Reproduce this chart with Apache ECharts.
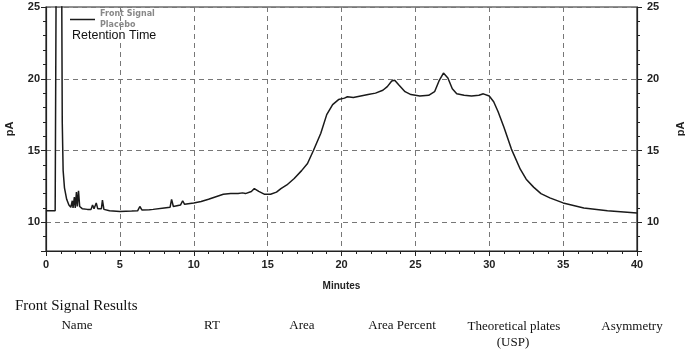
<!DOCTYPE html>
<html style="height: 100%">
<head>
    <meta charset="utf-8">
    <style>
        body { margin: 0; background: #fff; }
        #chart { width: 685px; height: 352px; }
    </style>
    <script type="text/javascript" src="https://cdn.jsdelivr.net/npm/echarts@6/dist/echarts.min.js"></script>
</head>
<body>
<div id="chart"></div>
<script type="text/javascript">
    // retention time (min) and detector signal (pA)
    var times = [0, 0.3, 0.62, 0.70, 0.88, 1.05, 1.10, 1.16, 1.25, 1.4, 1.55, 1.68, 1.78, 1.83, 1.92, 1.98,
        2.06, 2.12, 2.2, 2.28, 2.45, 2.8, 3.05, 3.15, 3.25, 3.4, 3.5, 3.75, 3.82, 3.92, 4.3, 5,
        5.8, 6.2, 6.35, 6.5, 7.0, 7.1, 7.25, 8.0, 8.4, 8.5, 8.62, 9.1, 9.25, 9.38, 10, 10.5,
        11, 11.4, 11.5, 12, 12.5, 13, 13.3, 13.5, 13.9, 14.1, 14.4, 14.8, 15.2, 15.6, 15.9, 16.3,
        16.8, 17.3, 17.7, 18.1, 18.6, 19.0, 19.4, 19.8, 20.2, 20.4, 20.8, 21.3, 21.8, 22.3, 22.8, 23.1,
        23.4, 23.6, 23.9, 24.3, 24.7, 25.3, 25.9, 26.3, 26.6, 26.9, 27.2, 27.5, 27.8, 28.3, 28.8, 29.3,
        29.6, 30.0, 30.3, 30.6, 31.0, 31.5, 32.1, 32.5, 33.0, 33.5, 34.1, 35.0, 36.4, 38.0, 40];
    var signal = [10.8, 10.8, 10.8, 30, 300, 30, 17, 13.6, 12.4, 11.6, 11.2, 11.05, 11.5, 11.0, 11.75, 11.0,
        12.1, 11.1, 12.2, 11.1, 10.95, 10.9, 10.9, 11.2, 10.95, 11.35, 10.95, 10.95, 11.55, 10.9, 10.8, 10.75,
        10.78, 10.8, 11.1, 10.85, 10.88, 11.0, 10.9, 11.0, 11.05, 11.6, 11.1, 11.2, 11.5, 11.25, 11.35, 11.45,
        11.6, 11.75, 11.85, 11.95, 12.0, 12.0, 12.05, 12.0, 12.15, 12.35, 12.15, 11.95, 11.95, 12.1, 12.35, 12.6,
        13.05, 13.6, 14.1, 15.0, 16.2, 17.5, 18.2, 18.55, 18.65, 18.75, 18.7, 18.8, 18.9, 19.0, 19.2, 19.45,
        19.85, 19.9, 19.55, 19.1, 18.9, 18.8, 18.85, 19.1, 19.85, 20.4, 20.05, 19.3, 18.95, 18.85, 18.8, 18.85,
        18.95, 18.8, 18.4, 17.7, 16.6, 15.1, 13.7, 13.0, 12.45, 12.0, 11.7, 11.35, 11.0, 10.8, 10.65];

    var xTicks = [0, 40, 5];      // min, max, interval
    var yRange = [8, 25];
    var tableHeads = ['Name', 'RT', 'Area', 'Area Percent', 'Theoretical plates', 'Asymmetry'];

    var points = times.map(function (t, i) { return [t, signal[i]]; });

    var dom = document.getElementById("chart");
    var myChart = echarts.init(dom);

    var axisFont = {fontFamily: 'Liberation Sans', fontWeight: 'bold', fontSize: 11, color: '#222'};
    var dashed = {show: true, lineStyle: {color: '#777', type: [5, 4], width: 1}};

    function yLabel(v) { return v % 5 === 0 ? String(v) : ''; }

    var option = {
        animation: false,
        grid: {left: 46, right: 48, top: 7, bottom: 101, show: true, outerBoundsMode: 'none',
            containLabel: false, borderColor: '#222', borderWidth: 1.2},
        legend: {
            left: 70, top: 9, padding: 0,
            data: [{name: 'Front Signal\nPlacebo', icon: 'rect'}],
            itemWidth: 25, itemHeight: 1.5, itemGap: 5,
            textStyle: {fontFamily: 'DejaVu Sans', fontWeight: 'bold', fontSize: 8,
                color: '#888', lineHeight: 10.5}
        },
        xAxis: {
            type: 'value', min: xTicks[0], max: xTicks[1], interval: xTicks[2],
            name: 'Minutes', nameLocation: 'middle', nameGap: 30,
            nameTextStyle: {fontFamily: 'Liberation Sans', fontWeight: 'bold', fontSize: 10, color: '#222'},
            axisLine: {lineStyle: {color: '#222', width: 1.2}},
            axisTick: {length: 5, lineStyle: {color: '#222'}},
            minorTick: {show: true, splitNumber: 5, length: 3, lineStyle: {color: '#222'}},
            axisLabel: Object.assign({margin: 8}, axisFont),
            splitLine: dashed
        },
        yAxis: [{
            type: 'value', min: yRange[0], max: yRange[1], splitNumber: 4,
            name: 'pA', nameLocation: 'middle', nameGap: 31, nameRotate: 90,
            nameTextStyle: {fontFamily: 'Liberation Sans', fontWeight: 'bold', fontSize: 11, color: '#222'},
            axisLine: {show: true, lineStyle: {color: '#222', width: 1.2}},
            axisTick: {length: 5, lineStyle: {color: '#222'}},
            minorTick: {show: true, splitNumber: 5, length: 3, lineStyle: {color: '#222'}},
            axisLabel: Object.assign({margin: 6, formatter: yLabel}, axisFont),
            splitLine: dashed
        }, {
            type: 'value', min: yRange[0], max: yRange[1], splitNumber: 4, position: 'right',
            name: 'pA', nameLocation: 'middle', nameGap: 38, nameRotate: 90,
            nameTextStyle: {fontFamily: 'Liberation Sans', fontWeight: 'bold', fontSize: 11, color: '#222'},
            axisLine: {show: true, lineStyle: {color: '#222', width: 1.2}},
            axisTick: {length: 5, lineStyle: {color: '#222'}},
            minorTick: {show: true, splitNumber: 5, length: 3, lineStyle: {color: '#222'}},
            axisLabel: Object.assign({margin: 10, formatter: yLabel}, axisFont),
            splitLine: {show: false}
        }],
        series: [{
            name: 'Front Signal\nPlacebo',
            type: 'line',
            data: points,
            showSymbol: false,
            clip: true,
            lineStyle: {color: '#1a1a1a', width: 1.5},
            itemStyle: {color: '#1a1a1a'}
        }],
        graphic: [
            {type: 'text', x: 72, y: 29, style: {text: 'Retention Time', fill: '#111',
                font: '12.5px "Liberation Sans"'}},
            {type: 'text', x: 15, y: 299, style: {text: 'Front Signal Results', fill: '#111',
                font: '15px "Liberation Serif"'}},
            {type: 'text', x: 77, y: 326, style: {text: tableHeads[0], fill: '#111', align: 'center', verticalAlign: 'middle', font: '13px "Liberation Serif"'}},
            {type: 'text', x: 212, y: 326, style: {text: tableHeads[1], fill: '#111', align: 'center', verticalAlign: 'middle', font: '13px "Liberation Serif"'}},
            {type: 'text', x: 302, y: 326, style: {text: tableHeads[2], fill: '#111', align: 'center', verticalAlign: 'middle', font: '13px "Liberation Serif"'}},
            {type: 'text', x: 402, y: 326, style: {text: tableHeads[3], fill: '#111', align: 'center', verticalAlign: 'middle', font: '13px "Liberation Serif"'}},
            {type: 'text', x: 514, y: 327, style: {text: tableHeads[4], fill: '#111', align: 'center', verticalAlign: 'middle', font: '13px "Liberation Serif"'}},
            {type: 'text', x: 513, y: 343, style: {text: '(USP)', fill: '#111', align: 'center', verticalAlign: 'middle', font: '13px "Liberation Serif"'}},
            {type: 'text', x: 632, y: 327, style: {text: tableHeads[5], fill: '#111', align: 'center', verticalAlign: 'middle', font: '13px "Liberation Serif"'}}
        ]
    };

    if (option && typeof option === "object") {
        myChart.setOption(option, true);
    }
</script>
</body>
</html>
